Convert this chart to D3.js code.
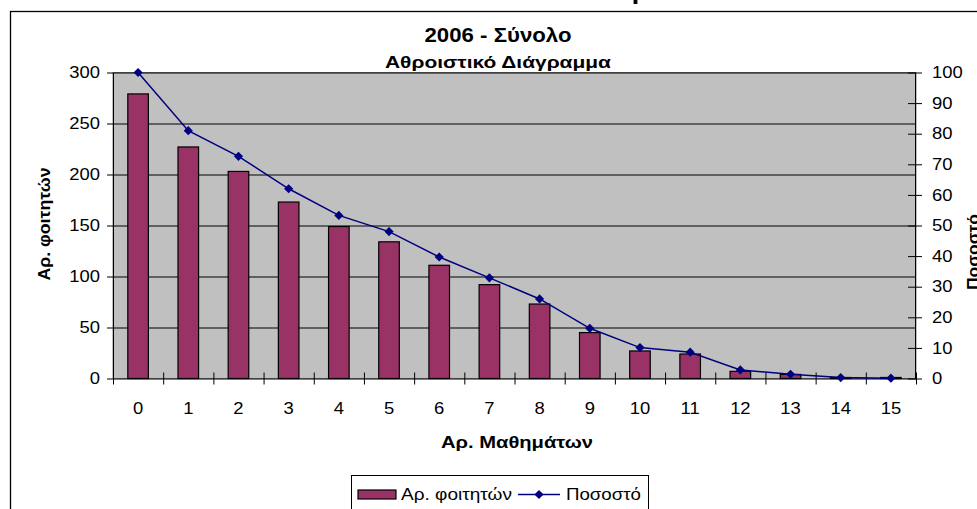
<!DOCTYPE html>
<html>
<head>
<meta charset="utf-8">
<script src="https://cdn.jsdelivr.net/npm/d3@7"></script>
<style>
  body { margin: 0; background: #fff; }
  svg { display: block; font-family: "Liberation Sans", Arial, sans-serif; }
  .axis path, .axis line { stroke: #000; }
  .axis text { font-size: 16px; fill: #000; }
</style>
</head>
<body>
<div class="chart"></div>
<script>
// data
var categories = ["0","1","2","3","4","5","6","7","8","9","10","11","12","13","14","15"];
var students = [279, 227, 203, 173, 149, 134, 111, 92, 73, 45, 27, 24, 7, 4, 1, 1];
var percent = [100, 81, 72.6, 62, 53.3, 48, 39.7, 32.9, 26, 16.4, 10.1, 8.6, 2.8, 1.4, 0.3, 0.1];
var leftTicks = [0, 50, 100, 150, 200, 250, 300];
var rightTicks = [0, 10, 20, 30, 40, 50, 60, 70, 80, 90, 100];

var W = 977, H = 509;
var pLeft = 113, pRight = 916, pTop = 72.5, pBottom = 378.5;

var svg = d3.select(".chart").append("svg")
    .attr("width", W)
    .attr("height", H);

// the source fonts run wider than Liberation Sans, stretch to fit
function widen(sel, k) {
  sel.each(function() {
    var w = this.getComputedTextLength();
    d3.select(this).attr("textLength", w * k).attr("lengthAdjust", "spacingAndGlyphs");
  });
}
function fitTo(sel, len) {
  sel.attr("textLength", len).attr("lengthAdjust", "spacingAndGlyphs");
}

// chart area frame (runs off the right and bottom edges)
svg.append("rect")
    .attr("x", 10.5).attr("y", 11.5)
    .attr("width", 1000).attr("height", 600)
    .attr("fill", "#fff").attr("stroke", "#000").attr("stroke-width", 1.3);

// piece of a title cut off at the top edge
svg.append("text")
    .attr("x", 632).attr("y", -1)
    .attr("font-size", 26).attr("font-weight", "bold")
    .text("ρ");

var x = d3.scaleBand().domain(categories).range([pLeft, pRight]).paddingInner(0).paddingOuter(0);
var xEdge = d3.scaleLinear().domain([0, categories.length]).range([pLeft, pRight]);
var yL = d3.scaleLinear().domain([0, 300]).range([pBottom, pTop]);
var yR = d3.scaleLinear().domain([0, 100]).range([pBottom, pTop]);

// plot area
svg.append("rect")
    .attr("x", pLeft).attr("y", pTop)
    .attr("width", pRight - pLeft).attr("height", pBottom - pTop)
    .attr("fill", "#c0c0c0").attr("stroke", "#808080");

// gridlines
svg.append("g")
    .attr("transform", "translate(" + pLeft + ",0)")
    .call(d3.axisLeft(yL).tickValues(leftTicks.slice(1)).tickSize(-(pRight - pLeft)).tickFormat(""))
    .call(function(g) { g.select(".domain").remove(); })
    .selectAll("line").attr("stroke", "#000");

// bars
var barW = x.bandwidth() * 0.41;
svg.selectAll(".bar")
    .data(students)
  .enter().append("rect")
    .attr("class", "bar")
    .attr("x", function(d, i) { return x(categories[i]) + (x.bandwidth() - barW) / 2; })
    .attr("y", function(d) { return yL(d); })
    .attr("width", barW)
    .attr("height", function(d) { return pBottom - yL(d); })
    .attr("fill", "#993366")
    .attr("stroke", "#000")
    .attr("stroke-width", 1.2);

// left axis
var gL = svg.append("g")
    .attr("class", "axis")
    .attr("transform", "translate(" + pLeft + ",0)")
    .call(d3.axisLeft(yL).tickValues(leftTicks).tickSize(6).tickPadding(7).tickSizeOuter(0));
widen(gL.selectAll("text"), 1.15);

// right axis, ticks cross the line
var gR = svg.append("g")
    .attr("class", "axis")
    .attr("transform", "translate(" + (pRight - 1) + ",0)")
    .call(d3.axisRight(yR).tickValues(rightTicks).tickSize(7).tickPadding(10).tickSizeOuter(0));
gR.selectAll(".tick line").attr("x1", -7);
widen(gR.selectAll("text"), 1.15);

// bottom axis: ticks between categories
var gB = svg.append("g")
    .attr("class", "axis")
    .attr("transform", "translate(0," + pBottom + ")")
    .call(d3.axisBottom(xEdge).tickValues(d3.range(categories.length + 1)).tickSize(6).tickFormat("").tickSizeOuter(0));
gB.selectAll(".tick line").attr("y1", -6);

var gX = svg.append("g")
    .attr("class", "axis")
    .attr("transform", "translate(0," + pBottom + ")")
    .call(d3.axisBottom(x).tickSize(0).tickPadding(0))
    .call(function(g) { g.select(".domain").remove(); });
gX.selectAll("text").attr("y", 35).attr("dy", null);
widen(gX.selectAll("text"), 1.15);

// percentage line
var line = d3.line()
    .x(function(d, i) { return x(categories[i]) + x.bandwidth() / 2; })
    .y(function(d) { return yR(d); });

svg.append("path")
    .datum(percent)
    .attr("d", line)
    .attr("fill", "none")
    .attr("stroke", "#000080")
    .attr("stroke-width", 1.5);

var diamond = d3.symbol().type(d3.symbolSquare).size(42);
svg.selectAll(".pt")
    .data(percent)
  .enter().append("path")
    .attr("class", "pt")
    .attr("d", diamond)
    .attr("fill", "#000080")
    .attr("transform", function(d, i) {
      return "translate(" + (x(categories[i]) + x.bandwidth() / 2) + "," + yR(d) + ") rotate(45)";
    });

// titles
svg.append("text")
    .attr("x", 498).attr("y", 42)
    .attr("text-anchor", "middle")
    .attr("font-size", 21).attr("font-weight", "bold")
    .text("2006 - Σύνολο")
    .call(fitTo, 147);

svg.append("text")
    .attr("x", 498).attr("y", 68)
    .attr("text-anchor", "middle")
    .attr("font-size", 17).attr("font-weight", "bold")
    .text("Αθροιστικό Διάγραμμα")
    .call(fitTo, 226);

svg.append("text")
    .attr("x", 517).attr("y", 448)
    .attr("text-anchor", "middle")
    .attr("font-size", 16).attr("font-weight", "bold")
    .text("Αρ. Μαθημάτων")
    .call(fitTo, 152);

svg.append("text")
    .attr("transform", "translate(50,224) rotate(-90)")
    .attr("text-anchor", "middle")
    .attr("font-size", 16).attr("font-weight", "bold")
    .text("Αρ. φοιτητών")
    .call(fitTo, 113);

svg.append("text")
    .attr("transform", "translate(979,252) rotate(-90)")
    .attr("text-anchor", "middle")
    .attr("font-size", 16).attr("font-weight", "bold")
    .text("Ποσοστό")
    .call(fitTo, 76);

// legend
var lg = svg.append("g");
lg.append("rect")
    .attr("x", 351.5).attr("y", 475.5)
    .attr("width", 297).attr("height", 60)
    .attr("fill", "#fff").attr("stroke", "#000");
lg.append("rect")
    .attr("x", 358).attr("y", 490)
    .attr("width", 38).attr("height", 9)
    .attr("fill", "#993366").attr("stroke", "#000").attr("stroke-width", 1.2);
lg.append("text")
    .attr("x", 401).attr("y", 500)
    .attr("font-size", 17)
    .text("Αρ. φοιτητών")
    .call(fitTo, 111);
lg.append("line")
    .attr("x1", 518).attr("x2", 560).attr("y1", 494.5).attr("y2", 494.5)
    .attr("stroke", "#000080").attr("stroke-width", 1.5);
lg.append("path")
    .attr("d", diamond)
    .attr("fill", "#000080")
    .attr("transform", "translate(539,494.5) rotate(45)");
lg.append("text")
    .attr("x", 566).attr("y", 500)
    .attr("font-size", 17)
    .text("Ποσοστό")
    .call(fitTo, 75);
</script>
</body>
</html>
